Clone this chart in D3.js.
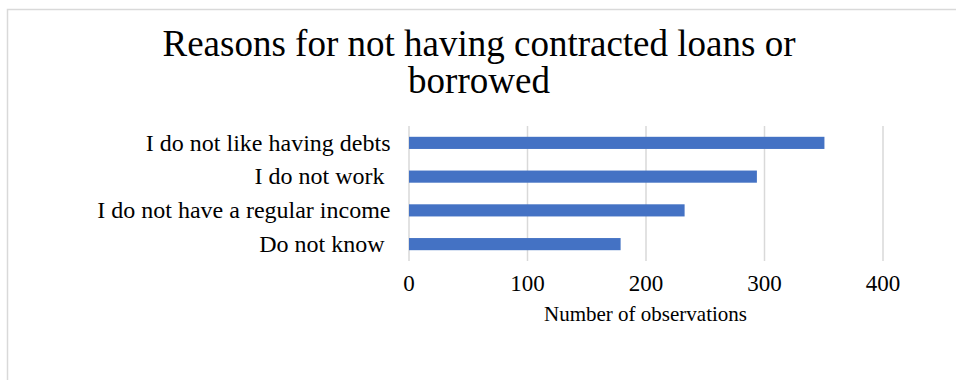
<!DOCTYPE html>
<html>
<head>
<meta charset="utf-8">
<script src="https://cdn.jsdelivr.net/npm/d3@7"></script>
<style>
  html, body { margin: 0; padding: 0; background: #fff; }
  svg { display: block; }
  text { font-family: "Liberation Serif", "Times New Roman", serif; fill: #000; }
</style>
</head>
<body>
<svg id="chart" width="956" height="380"></svg>
<script>
// Reasons given, top to bottom
const categories = [
  "I do not like having debts",
  "I do not work ",
  "I do not have a regular income",
  "Do not know "
];
// Number of observations for each reason
const counts = [351, 294, 233, 179];
const xTicks = [0, 100, 200, 300, 400];
const titleLines = ["Reasons for not having contracted loans or", "borrowed"];
const xTitle = "Number of observations";

const svg = d3.select("#chart");
const W = 956, H = 380;
const plot = { left: 408.5, right: 882.5, top: 126, bottom: 261 };

// chart frame
svg.append("rect")
  .attr("x", 7.5).attr("y", 9.5)
  .attr("width", W + 10).attr("height", H + 10)
  .attr("fill", "#fff")
  .attr("stroke", "#d9d9d9").attr("stroke-width", 1.5);

// title
svg.append("g").selectAll("text")
  .data(titleLines)
  .join("text")
  .attr("x", 479)
  .attr("y", (d, i) => 56 + i * 37)
  .attr("text-anchor", "middle")
  .style("font-size", "37px")
  .text(d => d);

const x = d3.scaleLinear().domain([0, 400]).range([plot.left, plot.right]);
const y = d3.scaleBand().domain(categories)
  .range([plot.top, plot.bottom])
  .paddingInner(0.64).paddingOuter(0.32);

// vertical gridlines
svg.append("g")
  .attr("transform", `translate(0,${plot.bottom})`)
  .call(d3.axisBottom(x).tickValues(xTicks).tickSize(-(plot.bottom - plot.top)).tickFormat(""))
  .call(g => g.select(".domain").remove())
  .call(g => g.selectAll("line").attr("stroke", "#d9d9d9").attr("stroke-width", 1.5));

// bars
svg.append("g").selectAll("rect")
  .data(categories)
  .join("rect")
  .attr("x", x(0) + 0.5)
  .attr("y", d => y(d))
  .attr("width", (d, i) => x(counts[i]) - x(0) - 0.5)
  .attr("height", y.bandwidth())
  .attr("fill", "#4472c4");

// x tick labels
svg.append("g")
  .attr("transform", `translate(0,${plot.bottom})`)
  .call(d3.axisBottom(x).tickValues(xTicks).tickSize(0).tickPadding(14))
  .call(g => g.select(".domain").remove())
  .call(g => g.selectAll("text")
    .attr("font-family", null)
    .style("font-size", "23px")
    .style("fill", "#000"));

// category labels
svg.append("g")
  .attr("transform", `translate(${plot.left},0)`)
  .call(d3.axisLeft(y).tickSize(0).tickPadding(18))
  .call(g => g.select(".domain").remove())
  .call(g => g.selectAll("text")
    .attr("font-family", null)
    .style("font-size", "24px")
    .style("fill", "#000")
    .style("white-space", "pre"));

// x axis title
svg.append("text")
  .attr("x", (plot.left + plot.right) / 2)
  .attr("y", 321)
  .attr("text-anchor", "middle")
  .style("font-size", "21px")
  .text(xTitle);
</script>
</body>
</html>
